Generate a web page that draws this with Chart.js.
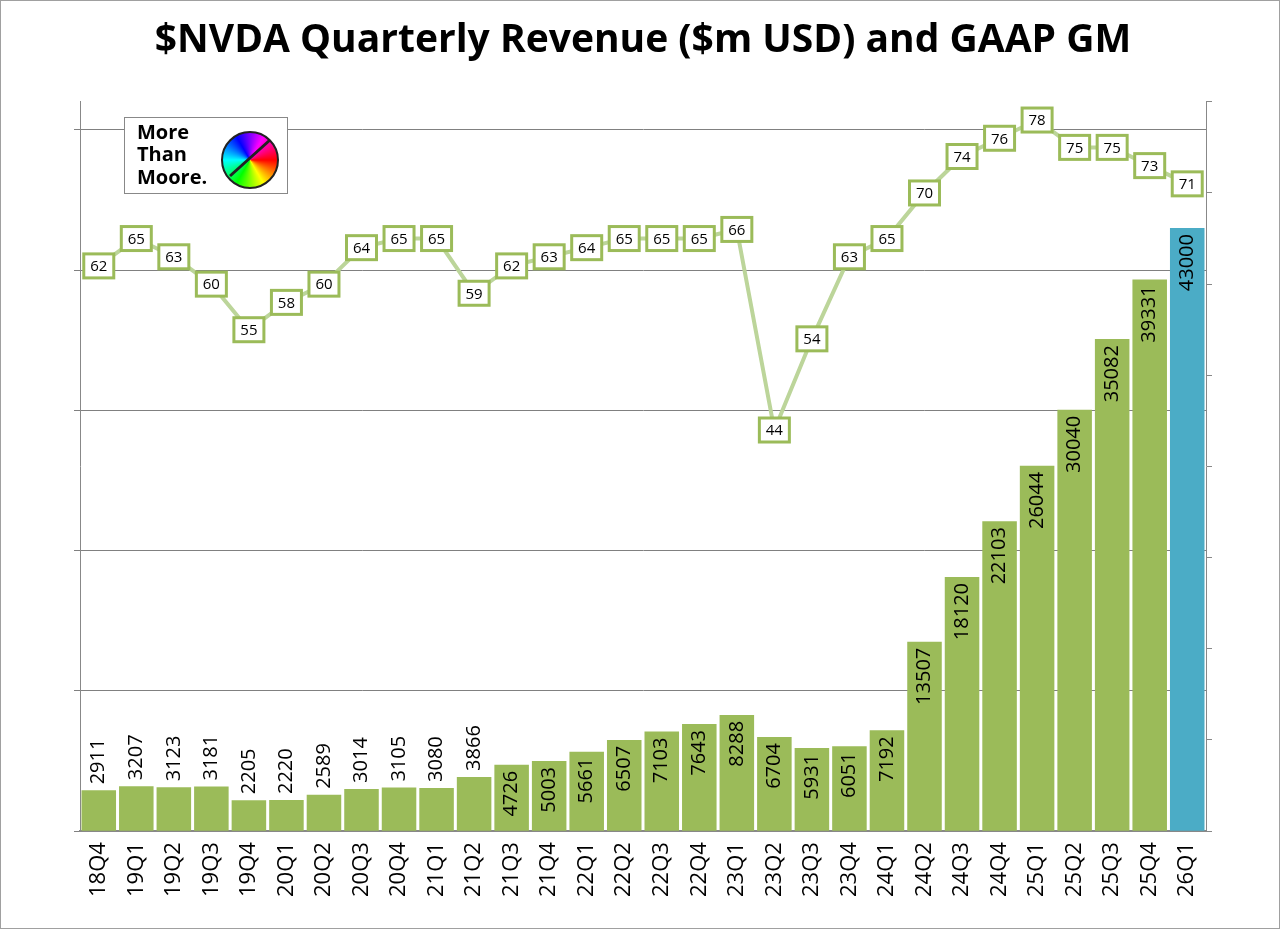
<!DOCTYPE html>
<html>
<head>
<meta charset="utf-8">
<script src="https://cdn.jsdelivr.net/npm/chart.js@4"></script>
<style>
  body { margin: 0; background: #fff; }
  #wrap { position: relative; width: 1278px; height: 927px; border: 1px solid #a0a0a0; }
  #logo { position: absolute; left: 123px; top: 116px; width: 162px; height: 75px; border: 1px solid #888; background: #fff; }
</style>
</head>
<body>
<div id="wrap">
  <canvas id="revChart" width="1278" height="927"></canvas>
  <canvas id="logo" width="162" height="75"></canvas>
</div>
<script>
const quarters = ['18Q4','19Q1','19Q2','19Q3','19Q4','20Q1','20Q2','20Q3','20Q4','21Q1','21Q2','21Q3','21Q4','22Q1','22Q2','22Q3','22Q4','23Q1','23Q2','23Q3','23Q4','24Q1','24Q2','24Q3','24Q4','25Q1','25Q2','25Q3','25Q4','26Q1'];
const revenue = [2911,3207,3123,3181,2205,2220,2589,3014,3105,3080,3866,4726,5003,5661,6507,7103,7643,8288,6704,5931,6051,7192,13507,18120,22103,26044,30040,35082,39331,43000];
const grossMargin = [62,65,63,60,55,58,60,64,65,65,59,62,63,64,65,65,65,66,44,54,63,65,70,74,76,78,75,75,73,71];
const revenueTicks = [0,10000,20000,30000,40000,50000];

const barColors = revenue.map((v, i) => i === revenue.length - 1 ? '#4bacc6' : '#9bbb59');

// labels on bars and boxes on the margin line
const labelPlugin = {
    id: 'labels',
    afterDatasetsDraw(chart) {
        const c = chart.ctx;
        const bars = chart.getDatasetMeta(0).data;
        c.save();
        c.font = '20px "Open Sans", sans-serif';
        c.fillStyle = '#000';
        c.textBaseline = 'middle';
        bars.forEach((bar, i) => {
            c.save();
            c.translate(bar.x, bar.y);
            c.rotate(-Math.PI / 2);
            if (revenue[i] < 4000) {
                c.textAlign = 'left';
                c.fillText(revenue[i], 6, 0);
            } else {
                c.textAlign = 'right';
                c.fillText(revenue[i], -6, 0);
            }
            c.restore();
        });
        const pts = chart.getDatasetMeta(1).data;
        c.font = '15px "Open Sans", sans-serif';
        c.textAlign = 'center';
        pts.forEach((p, i) => {
            c.fillStyle = '#fff';
            c.strokeStyle = '#9bbb59';
            c.lineWidth = 3;
            c.fillRect(p.x - 15, p.y - 12, 30, 24);
            c.strokeRect(p.x - 15, p.y - 12, 30, 24);
            c.fillStyle = '#000';
            c.fillText(grossMargin[i], p.x, p.y + 1);
        });
        c.restore();
    }
};

new Chart(document.getElementById('revChart').getContext('2d'), {
    data: {
        labels: quarters,
        datasets: [
            {
                type: 'bar',
                data: revenue,
                backgroundColor: barColors,
                yAxisID: 'y',
                categoryPercentage: 0.92,
                barPercentage: 1,
                order: 2
            },
            {
                type: 'line',
                data: grossMargin,
                borderColor: '#bcd59a',
                borderWidth: 4,
                pointRadius: 0,
                yAxisID: 'y2',
                order: 1
            }
        ]
    },
    options: {
        responsive: false,
        animation: false,
        layout: { padding: { left: 73, right: 67, top: 8, bottom: 28 } },
        plugins: {
            legend: { display: false },
            tooltip: { enabled: false },
            title: {
                display: true,
                text: '$NVDA Quarterly Revenue ($m USD) and GAAP GM',
                color: '#000',
                font: { family: '"Open Sans", sans-serif', size: 39, weight: 'bold' },
                padding: { top: 8, bottom: 38 }
            }
        },
        scales: {
            x: {
                grid: { display: false },
                border: { color: '#888', width: 2 },
                ticks: {
                    color: '#000', maxRotation: 90, minRotation: 90,
                    font: { family: '"Open Sans", sans-serif', size: 22 }
                }
            },
            y: {
                position: 'left',
                min: 0, max: 52000,
                afterBuildTicks: axis => { axis.ticks = revenueTicks.map(v => ({ value: v })); },
                ticks: { display: false },
                grid: { color: '#808080', lineWidth: 1, tickLength: 6 },
                border: { color: '#888', width: 1 }
            },
            y2: {
                position: 'right',
                min: 0, max: 80,
                ticks: { stepSize: 10, display: false },
                grid: { drawOnChartArea: false, color: '#888', tickLength: 6 },
                border: { color: '#888', width: 1 }
            }
        }
    },
    plugins: [labelPlugin]
});

// small logo box
const lg = document.getElementById('logo').getContext('2d');
lg.font = 'bold 20px "Open Sans", sans-serif';
lg.fillStyle = '#000';
lg.fillText('More', 12, 21);
lg.fillText('Than', 12, 43);
lg.fillText('Moore.', 12, 66);
const grad = lg.createConicGradient(0, 125, 42);
['#ff0000', '#ffff00', '#00ff00', '#00ffff', '#0000ff', '#ff00ff', '#ff0000'].forEach((col, i) => grad.addColorStop(i / 6, col));
lg.beginPath();
lg.arc(125, 42, 28, 0, Math.PI * 2);
lg.fillStyle = grad;
lg.fill();
lg.lineWidth = 2;
lg.strokeStyle = '#222';
lg.stroke();
lg.beginPath();
lg.moveTo(105, 58);
lg.lineTo(145, 22);
lg.lineWidth = 3;
lg.stroke();
</script>
</body>
</html>
